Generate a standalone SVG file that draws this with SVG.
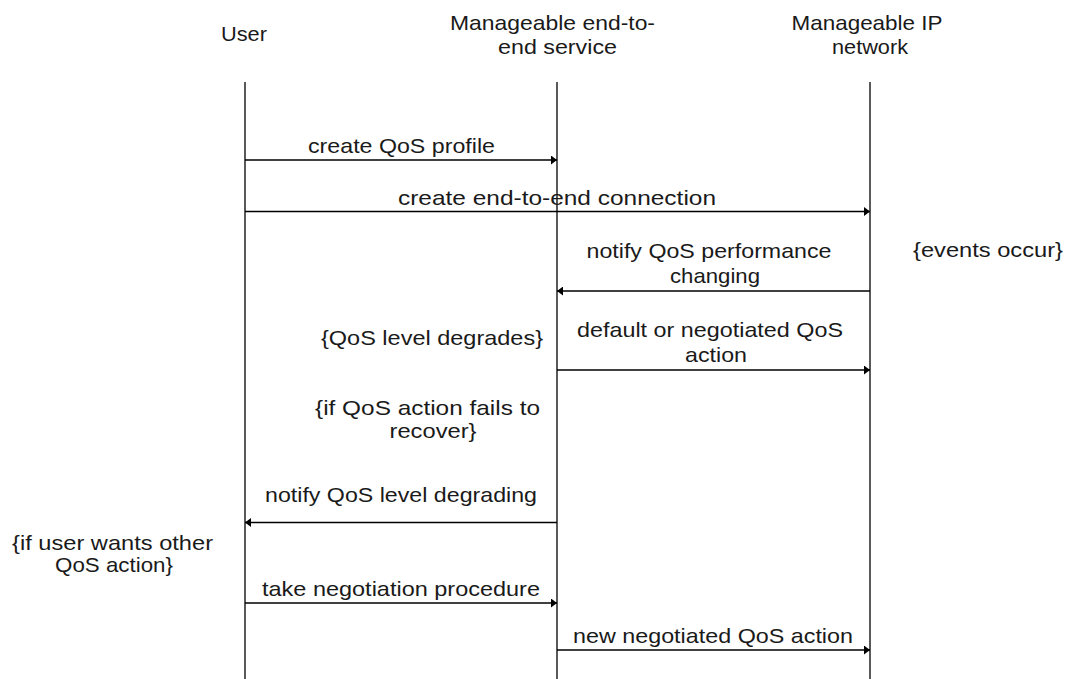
<svg xmlns="http://www.w3.org/2000/svg" width="1072" height="679" viewBox="0 0 1072 679">
  <style>
    text { font-family: "Liberation Sans", Arial, sans-serif; font-size: 21px; fill: #1a1a1a; }
    .c { text-anchor: middle; }
    .e { text-anchor: end; }
    .life { stroke: #000; stroke-width: 1.3; fill: none; }
    .msg { stroke: #000; stroke-width: 1.3; fill: none; }
  </style>
  <defs>
    <marker id="head" viewBox="0 0 6 9" refX="6" refY="4.5" markerWidth="6" markerHeight="9" markerUnits="userSpaceOnUse" orient="auto">
      <path d="M0,0 L6,4.5 L0,9 Z" fill="#000"/>
    </marker>
  </defs>
  <rect width="1072" height="679" fill="#fff"/>

  <!-- participants -->
  <g id="user">
    <text class="c" x="244" y="41" textLength="46" lengthAdjust="spacingAndGlyphs">User</text>
    <line class="life" x1="245" y1="82" x2="245" y2="679"/>
  </g>
  <g id="service">
    <text class="c" x="552.5" y="30" textLength="205" lengthAdjust="spacingAndGlyphs">Manageable end-to-</text>
    <text class="c" x="557.5" y="54" textLength="119" lengthAdjust="spacingAndGlyphs">end service</text>
    <line class="life" x1="557" y1="82" x2="557" y2="679"/>
  </g>
  <g id="network">
    <text class="c" x="867" y="30" textLength="151" lengthAdjust="spacingAndGlyphs">Manageable IP</text>
    <text class="c" x="870" y="54" textLength="76" lengthAdjust="spacingAndGlyphs">network</text>
    <line class="life" x1="870" y1="82" x2="870" y2="679"/>
  </g>

  <!-- messages -->
  <g id="connectors">
    <line class="msg" x1="245" y1="160" x2="557" y2="160" marker-end="url(#head)"/>
    <line class="msg" x1="245" y1="211.5" x2="870" y2="211.5" marker-end="url(#head)"/>
    <line class="msg" x1="870" y1="291" x2="557" y2="291" marker-end="url(#head)"/>
    <line class="msg" x1="557" y1="370" x2="870" y2="370" marker-end="url(#head)"/>
    <line class="msg" x1="557" y1="522.5" x2="245" y2="522.5" marker-end="url(#head)"/>
    <line class="msg" x1="245" y1="603" x2="557" y2="603" marker-end="url(#head)"/>
    <line class="msg" x1="557" y1="650" x2="870" y2="650" marker-end="url(#head)"/>
  </g>

  <!-- message labels -->
  <g id="labels">
    <text class="c" x="401.5" y="153" textLength="187" lengthAdjust="spacingAndGlyphs">create QoS profile</text>
    <text class="c" x="557" y="205" textLength="318" lengthAdjust="spacingAndGlyphs">create end-to-end connection</text>
    <text class="c" x="709" y="258" textLength="245" lengthAdjust="spacingAndGlyphs">notify QoS performance</text>
    <text class="c" x="715" y="283" textLength="90" lengthAdjust="spacingAndGlyphs">changing</text>
    <text class="c" x="710" y="337" textLength="266" lengthAdjust="spacingAndGlyphs">default or negotiated QoS</text>
    <text class="c" x="716" y="362" textLength="62" lengthAdjust="spacingAndGlyphs">action</text>
    <text class="c" x="401" y="502" textLength="272" lengthAdjust="spacingAndGlyphs">notify QoS level degrading</text>
    <text class="c" x="401" y="596" textLength="278" lengthAdjust="spacingAndGlyphs">take negotiation procedure</text>
    <text class="c" x="713" y="643" textLength="280" lengthAdjust="spacingAndGlyphs">new negotiated QoS action</text>
  </g>

  <!-- conditions -->
  <g id="conditions">
    <text x="913" y="257" textLength="150" lengthAdjust="spacingAndGlyphs">{events occur}</text>
    <text class="e" x="543" y="345" textLength="222" lengthAdjust="spacingAndGlyphs">{QoS level degrades}</text>
    <text class="c" x="427.5" y="415" textLength="225" lengthAdjust="spacingAndGlyphs">{if QoS action fails to</text>
    <text class="c" x="433" y="438" textLength="87" lengthAdjust="spacingAndGlyphs">recover}</text>
    <text class="c" x="112.5" y="550" textLength="201" lengthAdjust="spacingAndGlyphs">{if user wants other</text>
    <text class="c" x="114" y="572" textLength="118" lengthAdjust="spacingAndGlyphs">QoS action}</text>
  </g>
</svg>
